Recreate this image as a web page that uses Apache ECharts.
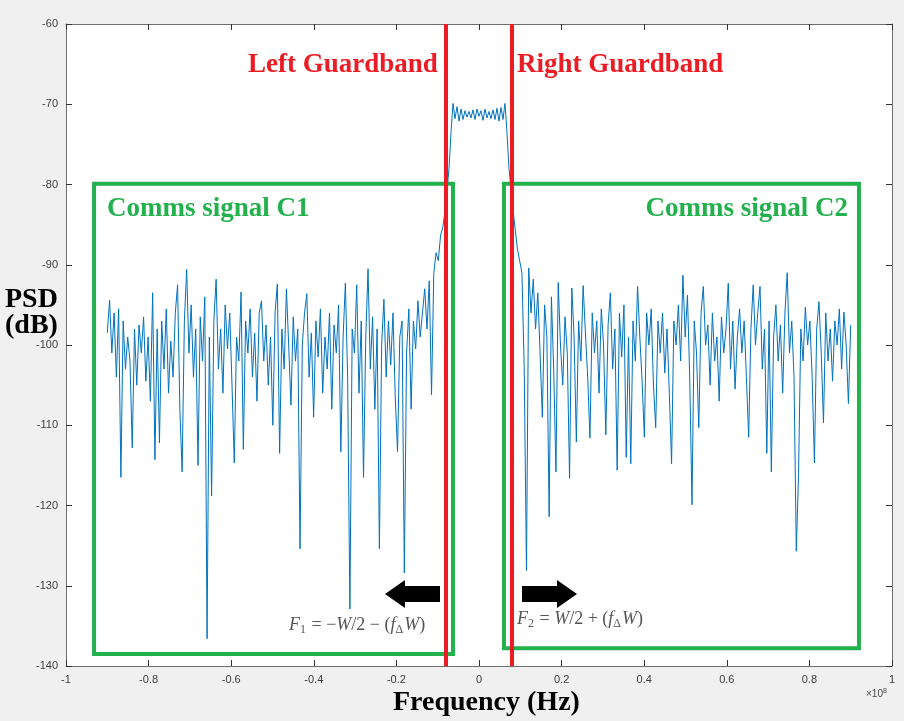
<!DOCTYPE html>
<html>
<head>
<meta charset="utf-8">
<script src="https://cdn.jsdelivr.net/npm/echarts@6/dist/echarts.min.js"></script>
<style>html,body{margin:0;padding:0;background:#f0f0f0;}#c{width:904px;height:721px;}</style>
</head>
<body>
<div id="c"></div>
<script>
// Frequency axis in units of 1e8 Hz, PSD in dB
const xTicks = { min: -1, max: 1, interval: 0.2 };
const yTicks = { min: -140, max: -60, interval: 10 };

// Left comms band C1 (sampled evenly from -0.9 to -0.082)
const leftRange = [-0.9, -0.082];
const leftPsd = [
 -98.5,-94.4,-101,-96,-104,-95.5,-116.5,-97,-103,-99,
 -102,-112.8,-98,-105,-97.5,-101,-96.5,-104.5,-99,-107,
 -93.5,-114.3,-98,-112.2,-97,-103,-95.5,-106,-99.5,-104,
 -96,-92.5,-108,-115.8,-97,-90.6,-101,-95,-104,-98,
 -115,-96.5,-102,-94,-136.6,-99,-118.8,-97,-91.8,-103,
 -98,-106,-95,-100.5,-96,-105,-114.7,-99,-102,-93.4,
 -113,-97,-101,-95.5,-104,-98.5,-107,-96,-94.5,-102,
 -97.5,-105,-99,-110,-96,-92.4,-113.5,-98,-103,-93,
 -100,-107.5,-96.5,-102,-98,-125.4,-100,-96,-93.6,-104,
 -98.5,-109,-97,-101.5,-95.5,-106,-99,-103,-96,-108,
 -97.5,-101,-95,-113.3,-99,-92.3,-104,-132.9,-98,-101,
 -92.5,-106,-97,-116.5,-99,-90.5,-103,-96.5,-108,-98,
 -125.4,-100,-94.3,-104,-97,-102.5,-96,-106.5,-113.3,-99,
 -97,-128.4,-101,-95.5,-108,-97,-100.5,-94.5,-99,-96,
 -93,-98,-92,-106.2,-91,-88.5,-89.5,-86.3,-85.3,-83.2
];

// Centre (probing) signal between the guardbands
const centerRange = [-0.0726, 0.0726];
const centerPsd = [
 -78,-73.5,-69.9,-71.8,-70.3,-72.1,-70.6,-71.9,-70.8,-71.6,
 -70.9,-71.7,-70.7,-71.9,-70.6,-71.5,-70.8,-72.0,-70.6,-71.7,
 -70.9,-71.8,-70.7,-71.9,-70.5,-72.1,-70.4,-71.9,-69.9,-73.5,-78
];

// Right comms band C2 (sampled evenly from 0.082 to 0.9)
const rightRange = [0.082, 0.9];
const rightPsd = [
 -83,-85.5,-88,-89.5,-91,-102.7,-128.1,-90.4,-96,-91.8,
 -98,-93.5,-101,-109,-95,-99,-121.4,-94,-103,-115.8,
 -92.2,-100,-105,-96.5,-101,-116.6,-92.9,-99,-112.1,-97,
 -102,-92.6,-98.5,-104,-111.6,-96,-101,-97,-106,-95.5,
 -100,-111.2,-97.5,-93.5,-103,-98,-115.6,-96,-101.5,-95,
 -114,-99,-114.8,-97,-102,-92.7,-99,-104.5,-111.5,-96,
 -100,-95.5,-105,-110.3,-97,-101,-96,-103.5,-98,-106,
 -114.8,-97,-100,-95,-102,-91.3,-99,-93.8,-104,-119.9,
 -97,-101,-110.3,-96,-92.7,-100,-97.5,-105,-96,-102,
 -99,-107,-96.5,-101,-98,-92.3,-103,-97,-105.5,-99,
 -95.5,-101,-97,-104,-111.5,-98,-92.5,-100,-96,-92.7,
 -103,-98,-113.5,-97,-115.8,-99,-95,-102,-97.5,-106,
 -96,-91,-101,-97,-104,-125.7,-116,-98,-102,-95.3,
 -100,-97,-104,-114.7,-98,-94.6,-101,-109.7,-96,-102,
 -98,-104.5,-97,-100,-95.5,-103,-95.9,-100,-107.3,-97.5
];

// Guardband edges and comms boxes (data coordinates)
const guardEdges = [-0.076, 0.076];
const c1Box = [[-0.932, -79.9], [-0.063, -138.5]];
const c2Box = [[0.0605, -79.9], [0.92, -137.8]];

function seg(vals, r) {
  return vals.map((v, i) => [r[0] + (r[1] - r[0]) * i / (vals.length - 1), v]);
}
const psdData = seg(leftPsd, leftRange).concat(seg(centerPsd, centerRange), seg(rightPsd, rightRange));

const chart = echarts.init(document.getElementById('c'), null, { renderer: 'canvas' });
const axisColor = '#6e6e6e';
const labelColor = '#3c3c3c';
const serif = '"Liberation Serif","Times New Roman",serif';
const red = '#ed1c24', green = '#22b14c';

function xAx(pos, showLabel) {
  return {
    type: 'value', position: pos, min: xTicks.min, max: xTicks.max, interval: xTicks.interval,
    axisLine: { show: true, onZero: false, lineStyle: { color: axisColor, width: 1 } },
    axisTick: { show: true, inside: true, length: 6, lineStyle: { color: '#333' } },
    axisLabel: { show: showLabel, color: labelColor, fontSize: 11, fontFamily: 'Liberation Sans, Arial', margin: 8 },
    splitLine: { show: false }
  };
}
function yAx(pos, showLabel) {
  return {
    type: 'value', position: pos, min: yTicks.min, max: yTicks.max, interval: yTicks.interval,
    axisLine: { show: true, onZero: false, lineStyle: { color: axisColor, width: 1 } },
    axisTick: { show: true, inside: true, length: 6, lineStyle: { color: '#333' } },
    axisLabel: { show: showLabel, color: labelColor, fontSize: 11, fontFamily: 'Liberation Sans, Arial', margin: 8 },
    splitLine: { show: false }
  };
}

function arrow(xTip, yc, dir) {
  const L = 55, H = 20, hh = 14, sh = 8;
  const s = dir;
  const pts = [
    [xTip, yc], [xTip - s * H, yc - hh], [xTip - s * H, yc - sh], [xTip - s * L, yc - sh],
    [xTip - s * L, yc + sh], [xTip - s * H, yc + sh], [xTip - s * H, yc + hh]
  ];
  return { type: 'polygon', shape: { points: pts }, style: { fill: '#000' }, z: 100 };
}

const mathRich = {
  i: { fontFamily: 'Liberation Serif', fontStyle: 'italic', fontSize: 18, fill: '#555' },
  n: { fontFamily: 'Liberation Serif', fontSize: 18, fill: '#555' },
  s: { fontFamily: 'Liberation Serif', fontSize: 12, fill: '#555', padding: [9, 1, 0, 0] }
};

const option = {
  backgroundColor: '#f0f0f0',
  animation: false,
  grid: { left: 66, right: 12, top: 24, bottom: 55, show: true, backgroundColor: '#ffffff', borderWidth: 0 },
  xAxis: [xAx('bottom', true), xAx('top', false)],
  yAxis: [yAx('left', true), yAx('right', false)],
  series: [{
    type: 'line',
    data: psdData,
    showSymbol: false,
    symbol: 'none',
    lineStyle: { color: '#0072bd', width: 1 },
    z: 2,
    markArea: {
      silent: true,
      itemStyle: { color: 'rgba(0,0,0,0)', borderColor: green, borderWidth: 4 },
      label: { show: false },
      data: [
        [{ coord: c1Box[0] }, { coord: c1Box[1] }],
        [{ coord: c2Box[0] }, { coord: c2Box[1] }]
      ]
    },
    markLine: {
      silent: true,
      symbol: 'none',
      label: { show: false },
      lineStyle: { color: red, width: 4, type: 'solid' },
      data: guardEdges.map(v => ({ xAxis: v }))
    }
  }],
  graphic: [
    { type: 'text', left: 248, top: 52, style: { text: 'Left Guardband', fill: red, font: 'bold 27px ' + serif }, z: 100 },
    { type: 'text', left: 517, top: 52, style: { text: 'Right Guardband', fill: red, font: 'bold 27px ' + serif }, z: 100 },
    { type: 'text', left: 107, top: 196, style: { text: 'Comms signal C1', fill: green, font: 'bold 27px ' + serif }, z: 100 },
    { type: 'text', right: 56, top: 196, style: { text: 'Comms signal C2', fill: green, font: 'bold 27px ' + serif, align: 'right' }, z: 100 },
    { type: 'text', left: 5, top: 286, style: { text: 'PSD\n(dB)', fill: '#000', font: 'bold 28px ' + serif, lineHeight: 26, align: 'left' }, z: 100 },
    { type: 'text', left: 393, top: 689, style: { text: 'Frequency (Hz)', fill: '#000', font: 'bold 28px ' + serif }, z: 100 },
    { type: 'text', left: 866, top: 688, style: {
        text: '{a|×10}{b|8}', rich: { a: { fontSize: 10, fill: '#444', fontFamily: 'Liberation Sans' }, b: { fontSize: 7, fill: '#444', verticalAlign: 'top', padding: [0,0,6,0] } } }, z: 100 },
    { type: 'text', left: 289, top: 616, style: {
        text: '{i|F}{s|1}{n| = −}{i|W}{n|/2 − (}{i|f}{s|Δ}{i|W}{n|)}', rich: mathRich }, z: 100 },
    { type: 'text', left: 517, top: 610, style: {
        text: '{i|F}{s|2}{n| = }{i|W}{n|/2 + (}{i|f}{s|Δ}{i|W}{n|)}', rich: mathRich }, z: 100 },
    arrow(385, 594, -1),
    arrow(577, 594, 1)
  ]
};
chart.setOption(option);
</script>
</body>
</html>
